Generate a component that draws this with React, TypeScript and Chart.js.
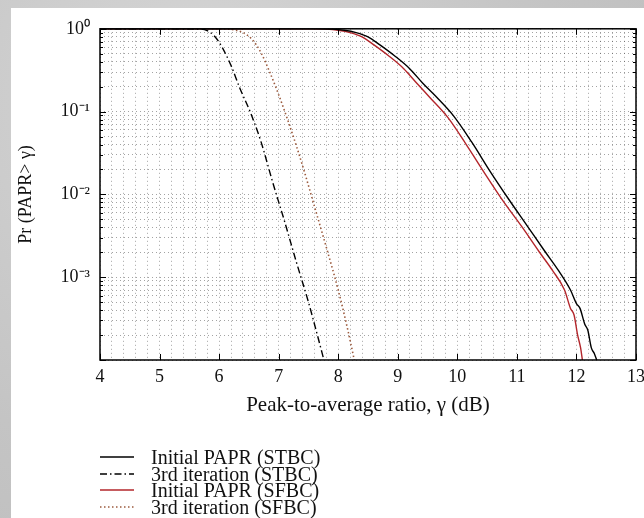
import React, { useEffect, useRef } from 'react';
import { Chart, registerables } from 'chart.js';

Chart.register(...registerables);

// ---- data ----
const stbcInitX = [4, 7.0, 7.6, 7.9, 8.1, 8.3, 8.5, 8.7, 8.95, 9.2, 9.42, 9.65, 9.93, 10.24, 10.55, 10.86, 11.17, 11.46, 11.7, 11.9, 12.0, 12.06, 12.14, 12.19, 12.25, 12.3, 12.34];
const stbcInitY = [1, 1, 0.999, 0.99, 0.96, 0.9, 0.8, 0.64, 0.47, 0.33, 0.22, 0.15, 0.09, 0.043, 0.019, 0.0088, 0.0042, 0.0021, 0.0012, 0.0007, 0.00048, 0.00042, 0.00027, 0.00023, 0.00014, 0.00012, 0.0001];

const stbcIterX = [4, 5.4, 5.65, 5.8, 5.92, 6.05, 6.2, 6.35, 6.52, 6.7, 6.9, 7.1, 7.3, 7.5, 7.65, 7.76];
const stbcIterY = [1, 1, 0.995, 0.95, 0.82, 0.6, 0.36, 0.19, 0.1, 0.044, 0.014, 0.0047, 0.0015, 0.0005, 0.0002, 0.0001];

const sfbcInitX = [4, 7.0, 7.5, 7.8, 8.0, 8.2, 8.4, 8.6, 8.85, 9.1, 9.32, 9.55, 9.84, 10.15, 10.46, 10.77, 11.08, 11.38, 11.6, 11.8, 11.9, 11.96, 12.02, 12.07, 12.1];
const sfbcInitY = [1, 1, 0.999, 0.99, 0.96, 0.9, 0.8, 0.64, 0.47, 0.33, 0.22, 0.145, 0.085, 0.04, 0.018, 0.0083, 0.0041, 0.002, 0.0012, 0.0007, 0.00042, 0.00035, 0.0002, 0.00014, 0.0001];

const sfbcIterX = [4, 5.9, 6.1, 6.25, 6.4, 6.55, 6.7, 6.85, 7.0, 7.15, 7.3, 7.45, 7.6, 7.8, 8.0, 8.15, 8.27];
const sfbcIterY = [1, 1, 0.995, 0.97, 0.9, 0.75, 0.52, 0.3, 0.16, 0.08, 0.038, 0.017, 0.0072, 0.0023, 0.0007, 0.00025, 0.0001];

const seriesNames = ['Initial PAPR (STBC)', '3rd iteration (STBC)', 'Initial PAPR (SFBC)', '3rd iteration (SFBC)'];
const seriesColors = ['#000000', '#000000', '#b3262b', '#9c5b3e'];
const seriesDashes: number[][] = [[], [7, 3, 1.5, 3], [], [1.5, 2.5]];

const xMin = 4;
const xMax = 13;
const xTickLabels = ['4', '5', '6', '7', '8', '9', '10', '11', '12', '13'];
const yDecades = [1, 0.1, 0.01, 0.001];
const yTickLabels = ['10\u2070', '10\u207B\u00B9', '10\u207B\u00B2', '10\u207B\u00B3'];
const yMin = 1e-4;
const yMax = 1;

const xTitle = 'Peak-to-average ratio, \u03B3 (dB)';
const yTitle = 'Pr (PAPR> \u03B3)';

const SERIF = "'Liberation Serif', 'Times New Roman', serif";

const toPts = (xs: number[], ys: number[]) => xs.map((x, i) => ({ x, y: ys[i] }));

const isDecade = (v: number) => Math.abs(Math.log10(v) - Math.round(Math.log10(v))) < 1e-9;

const framePlugin = {
  id: 'matlabFrame',
  afterDraw(chart: any) {
    const { ctx, chartArea: a, scales } = chart;
    const xs = scales.x;
    const ys = scales.y;
    ctx.save();
    ctx.strokeStyle = '#000';
    ctx.lineWidth = 1;
    const line = (x1: number, y1: number, x2: number, y2: number) => {
      ctx.beginPath();
      ctx.moveTo(x1, y1);
      ctx.lineTo(x2, y2);
      ctx.stroke();
    };
    xTickLabels.forEach((lab) => {
      const px = Math.round(xs.getPixelForValue(Number(lab))) + 0.5;
      line(px, a.bottom, px, a.bottom - 6);
      line(px, a.top, px, a.top + 6);
    });
    ys.ticks.forEach((t: any) => {
      const py = Math.round(ys.getPixelForValue(t.value)) + 0.5;
      const len = isDecade(t.value) ? 6 : 3;
      line(a.left, py, a.left + len, py);
      line(a.right, py, a.right - len, py);
    });
    ctx.lineWidth = 1.5;
    ctx.strokeRect(a.left, a.top, a.right - a.left, a.bottom - a.top);
    ctx.restore();
  },
};

function ChartCanvas() {
  const ref = useRef<HTMLCanvasElement | null>(null);
  useEffect(() => {
    if (!ref.current) return;
    const data = [
      toPts(stbcInitX, stbcInitY),
      toPts(stbcIterX, stbcIterY),
      toPts(sfbcInitX, sfbcInitY),
      toPts(sfbcIterX, sfbcIterY),
    ];
    const chart = new Chart(ref.current, {
      type: 'line',
      data: {
        datasets: data.map((d, i) => ({
          label: seriesNames[i],
          data: d,
          borderColor: seriesColors[i],
          borderDash: seriesDashes[i],
          borderWidth: i === 3 ? 1.6 : 1.4,
          pointRadius: 0,
          fill: false,
          cubicInterpolationMode: 'monotone' as const,
        })),
      },
      options: {
        animation: false,
        responsive: false,
        maintainAspectRatio: false,
        layout: { padding: { left: 0, right: 8, top: 17, bottom: 100 } },
        plugins: { legend: { display: false }, tooltip: { enabled: false } },
        scales: {
          x: {
            type: 'linear',
            min: xMin,
            max: xMax,
            afterBuildTicks: (scale: any) => {
              const t = [];
              for (let i = 0; i <= (xMax - xMin) * 5; i++) t.push({ value: Math.round((xMin + i * 0.2) * 1000) / 1000 });
              scale.ticks = t;
            },
            afterFit: (scale: any) => {
              scale.height = 58;
              scale.paddingLeft = 0;
              scale.paddingRight = 0;
            },
            ticks: {
              autoSkip: false,
              maxRotation: 0,
              padding: 6,
              color: '#111',
              font: { family: SERIF, size: 18 },
              callback: (v: any) => {
                const s = String(Math.round(Number(v)));
                return Math.abs(Number(v) - Math.round(Number(v))) < 1e-6 && xTickLabels.includes(s) ? s : '';
              },
            },
            grid: { color: 'rgba(0,0,0,0.36)', lineWidth: 1, drawTicks: false },
            border: { display: false, dash: [1, 3] },
            title: {
              display: true,
              text: xTitle,
              color: '#111',
              font: { family: SERIF, size: 21 },
              padding: { top: 0, bottom: 0 },
            },
          },
          y: {
            type: 'logarithmic',
            min: yMin,
            max: yMax,
            afterBuildTicks: (scale: any) => {
              const t = [];
              for (let e = -4; e < 0; e++) {
                for (let m = 1; m <= 9; m++) t.push({ value: m * Math.pow(10, e) });
              }
              t.push({ value: 1 });
              scale.ticks = t;
            },
            afterFit: (scale: any) => {
              scale.width = 89;
            },
            ticks: {
              autoSkip: false,
              padding: 10,
              color: '#111',
              font: { family: SERIF, size: 18 },
              callback: (v: any) => {
                const idx = yDecades.findIndex((d) => Math.abs(Math.log10(d) - Math.log10(Number(v))) < 1e-9);
                return idx >= 0 ? yTickLabels[idx] : '';
              },
            },
            grid: { color: 'rgba(0,0,0,0.36)', lineWidth: 1, drawTicks: false },
            border: { display: false, dash: [1, 3] },
            title: {
              display: true,
              text: yTitle,
              color: '#111',
              font: { family: SERIF, size: 18 },
              padding: { top: 4, bottom: 0 },
            },
          },
        },
      },
      plugins: [framePlugin],
    });
    return () => chart.destroy();
  }, []);
  return <canvas ref={ref} width={633} height={510} style={{ display: 'block', width: 633, height: 510 }} />;
}

export default function App() {
  const rowTops = [440, 457, 473, 490];
  return (
    <div
      style={{
        position: 'fixed',
        left: 0,
        top: 0,
        width: 644,
        height: 518,
        overflow: 'hidden',
        background: 'radial-gradient(circle at 30% 20%, #d6d6d6 0%, #c4c4c4 60%, #bdbdbd 100%)',
      }}
    >
      <div style={{ position: 'absolute', left: 11, top: 8, width: 633, height: 510, background: '#ffffff', overflow: 'hidden' }}>
        <ChartCanvas />
        {seriesNames.map((name, i) => (
          <div
            key={name}
            style={{
              position: 'absolute',
              left: 89,
              top: rowTops[i],
              height: 18,
              display: 'flex',
              alignItems: 'center',
              fontFamily: SERIF,
              fontSize: 20,
              color: '#111',
              whiteSpace: 'nowrap',
            }}
          >
            <svg width={34} height={18} style={{ display: 'block' }}>
              <line
                x1={0}
                y1={9}
                x2={34}
                y2={9}
                stroke={seriesColors[i]}
                strokeWidth={1.4}
                strokeDasharray={seriesDashes[i].length ? seriesDashes[i].join(' ') : undefined}
              />
            </svg>
            <span style={{ marginLeft: 17 }}>{name}</span>
          </div>
        ))}
      </div>
    </div>
  );
}
